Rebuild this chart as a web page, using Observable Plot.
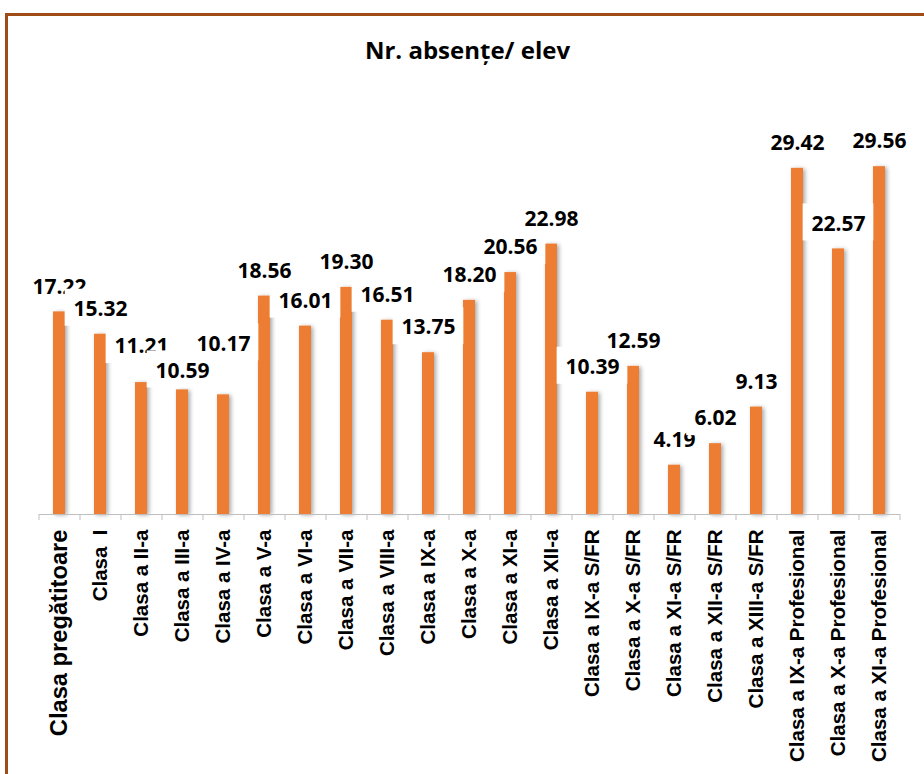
<!DOCTYPE html>
<html><head><meta charset="utf-8">
<script src="https://cdn.jsdelivr.net/npm/d3@7"></script>
<script src="https://cdn.jsdelivr.net/npm/@observablehq/plot@0.6"></script>
<style>
body{margin:0;background:#fff;}
#wrap{position:relative;width:924px;height:774px;overflow:hidden;background:#fff;}
#frame{position:absolute;left:5px;top:13px;width:1000px;height:1000px;border-top:3px solid #A04C16;border-left:3px solid #A04C16;z-index:3;}
#title{position:absolute;top:33px;left:0;width:935px;text-align:center;font:700 24px "Open Sans";color:#000;z-index:1;}
#chart{position:absolute;left:0;top:0;z-index:2;}
</style></head><body>
<div id="wrap"><div id="frame"></div><div id="title">Nr. absențe/ elev</div><div id="chart"></div></div>
<script>
const categories = [
  "Clasa pregătitoare", "Clasa  I", "Clasa a II-a", "Clasa a III-a", "Clasa a IV-a",
  "Clasa a V-a", "Clasa a VI-a", "Clasa a VII-a", "Clasa a VIII-a", "Clasa a IX-a",
  "Clasa a X-a", "Clasa a XI-a", "Clasa a XII-a",
  "Clasa a IX-a S/FR", "Clasa a X-a S/FR", "Clasa a XI-a S/FR", "Clasa a XII-a S/FR", "Clasa a XIII-a S/FR",
  "Clasa a IX-a Profesional", "Clasa a X-a Profesional", "Clasa a XI-a Profesional"
];
const values = [
  17.22, 15.32, 11.21, 10.59, 10.17,
  18.56, 16.01, 19.30, 16.51, 13.75,
  18.20, 20.56, 22.98,
  10.39, 12.59, 4.19, 6.02, 9.13,
  29.42, 22.57, 29.56
];
const valueLabels = values.map(v => v.toFixed(2));

// label placement (px above the bar top), as the reference nudges a few labels
const labelLiftDefault = 25;
const labelLiftOverride = {"Clasa a II-a": 36, "Clasa a III-a": 19, "Clasa a IV-a": 51};

const data = categories.map((c, i) => ({c, v: values[i], t: valueLabels[i]}));

const W = 924, H = 774;
const mL = 39, mR = 24, mT = 161, mB = 260;
const n = categories.length;
const step = (W - mL - mR) / n;
const pIn = 0.7, pOut = 0.35;
const bw = step * (1 - pIn);
const boxInset = t => -((t.length > 4 ? 71 : 58) - bw) / 2;

const labelMarks = data.flatMap(d => {
  const lift = labelLiftOverride[d.c] ?? labelLiftDefault;
  return [
    Plot.barY([d], {
      x: "c", y1: "v", y2: "v", fill: "white",
      insetTop: -(lift + 20), insetBottom: lift - 17,
      insetLeft: boxInset(d.t), insetRight: boxInset(d.t)
    }),
    Plot.text([d], {
      x: "c", y: "v", text: "t", dy: -lift,
      fontSize: 21, fontWeight: 700, fontFamily: "Open Sans", fill: "#000"
    })
  ];
});

const chart = Plot.plot({
  width: W, height: H,
  marginLeft: mL, marginRight: mR, marginTop: mT, marginBottom: mB,
  style: {background: "transparent", fontFamily: "Liberation Sans", fontSize: "20.5px", fontWeight: "bold", color: "#000"},
  x: {domain: categories, paddingInner: pIn, paddingOuter: pOut, tickRotate: -90, tickSize: 0, tickPadding: 15, label: null},
  y: {domain: [0, 30], axis: null},
  marks: [
    Plot.barY(data, {x: "c", y: "v", fill: "#ED7D31"}),
    Plot.ruleY([0], {stroke: "#BFBFBF", strokeWidth: 1}),
    Plot.ruleX(data, {x: "c", y1: 0, y2: 0, insetTop: 0, insetBottom: -6, dx: -step / 2, stroke: "#BFBFBF"}),
    Plot.ruleX(data.slice(-1), {x: "c", y1: 0, y2: 0, insetTop: 0, insetBottom: -6, dx: step / 2, stroke: "#BFBFBF"}),
    ...labelMarks
  ]
});

// soft shadow on the bars (style only)
const svg = d3.select(chart.tagName.toLowerCase() === "svg" ? chart : chart.querySelector("svg"));
const defs = svg.insert("defs", ":first-child");
const f = defs.append("filter").attr("id", "barShadow").attr("x", "-60%").attr("y", "-10%").attr("width", "220%").attr("height", "120%");
f.append("feDropShadow").attr("dx", 2).attr("dy", 1).attr("stdDeviation", 2).attr("flood-color", "#000").attr("flood-opacity", 0.35);
svg.select('g[aria-label="bar"]').attr("filter", "url(#barShadow)");

// first category label is set larger in the reference
let tickTexts = svg.selectAll('g[aria-label="x-axis tick label"] text');
if (tickTexts.empty()) tickTexts = svg.selectAll('g[aria-label="x-axis"] .tick text');
tickTexts.filter((d, i) => i === 0).attr("font-size", 23.7).style("font-size", "23.7px");

document.getElementById("chart").appendChild(chart);
</script>
</body></html>
